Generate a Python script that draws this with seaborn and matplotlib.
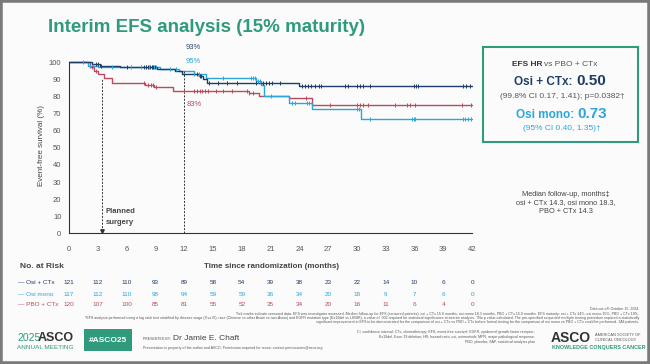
import numpy as np
import pandas as pd
import matplotlib.pyplot as plt
import matplotlib.transforms as mtransforms
from matplotlib.patches import Rectangle
import seaborn as sns

sns.set_style('white')
plt.rcParams['font.family'] = ['Liberation Sans', 'DejaVu Sans']

# ---- data ----
arms = ['Osi + CTx', 'Osi mono', 'PBO + CTx']
colors = {'Osi + CTx': '#1f3d66', 'Osi mono': '#2aa6dc', 'PBO + CTx': '#b84b5e'}

osi_ctx_t = [0, 2.4, 3.2, 5.3, 9.2, 11.0, 11.8, 13.5, 14.0, 14.4, 24.0, 42.0]
osi_ctx_s = [100, 99, 98, 97, 96, 95, 93, 92, 90, 88, 86, 86]
osi_mono_t = [0, 2.0, 3.0, 9.5, 11.5, 13.0, 14.3, 19.5, 20.0, 20.3, 22.9, 25.3, 30.4, 42.0]
osi_mono_s = [100, 98, 97, 96, 95, 93, 91, 89, 87, 80.5, 76, 72.5, 67, 67]
pbo_ctx_t = [0, 2.2, 2.6, 3.0, 3.6, 4.5, 7.9, 8.9, 10.8, 18.8, 19.8, 22.9, 25.3, 42.0]
pbo_ctx_s = [100, 97, 95, 93, 91, 88, 87, 85.5, 83, 82, 80.5, 79, 75, 75]

osi_ctx_cens = [2.8, 3.0, 3.3, 6.0, 7.8, 8.0, 8.2, 8.4, 8.6, 8.8, 9.0, 13.3, 13.6, 13.8,
                14.6, 15.5, 16.5, 17.5, 19.5, 20.2, 20.5, 20.8, 21.2, 22.0, 24.3, 24.6,
                24.9, 25.2, 25.6, 26.0, 26.3, 28.8, 29.1, 30.0, 30.3, 30.6, 31.4, 35.9,
                36.2, 36.4, 41.0, 41.4, 41.8]
osi_mono_cens = [1.5, 2.2, 2.5, 4.5, 6.5, 7.5, 8.0, 8.3, 8.6, 8.9, 9.1, 10.5, 11.2, 13.0,
                 13.5, 16.0, 19.0, 19.2, 19.4, 19.7, 19.9, 21.0, 23.2, 23.5, 24.8, 25.0,
                 30.0, 30.2, 31.4, 35.7, 35.9, 36.1, 41.0, 41.3, 41.6, 41.9]
pbo_ctx_cens = [2.4, 2.8, 7.8, 8.2, 8.5, 8.8, 9.1, 12.0, 13.0, 13.3, 13.6, 13.9, 14.2,
                14.5, 15.3, 16.0, 17.0, 18.5, 18.8, 19.2, 24.7, 27.2, 30.0, 30.3, 30.6,
                31.2, 34.0, 35.2, 35.5, 36.1, 40.9, 41.9]

risk_months = list(range(0, 43, 3))
risk_osi_ctx = [121, 112, 110, 93, 89, 58, 54, 39, 38, 23, 22, 14, 10, 6, 0]
risk_osi_mono = [117, 112, 110, 98, 94, 59, 59, 36, 34, 20, 18, 9, 7, 6, 0]
risk_pbo_ctx = [120, 107, 100, 85, 81, 55, 52, 35, 34, 20, 16, 11, 6, 4, 0]

curves = {'Osi + CTx': (osi_ctx_t, osi_ctx_s, osi_ctx_cens, risk_osi_ctx),
          'Osi mono': (osi_mono_t, osi_mono_s, osi_mono_cens, risk_osi_mono),
          'PBO + CTx': (pbo_ctx_t, pbo_ctx_s, pbo_ctx_cens, risk_pbo_ctx)}

teal = '#2f9a7c'
W, H = 650, 364


def fx(px):
    return px / W


def fy(py):
    return 1 - py / H


fig = plt.figure(figsize=(6.5, 3.64), dpi=100)
fig.patch.set_facecolor('#fbfbfb')
fig.patches.append(Rectangle((0, 0), 1, 1, transform=fig.transFigure, fill=False,
                             edgecolor='#7a7a7a', linewidth=4, zorder=10))

fig.text(fx(48), fy(27), 'Interim EFS analysis (15% maturity)', color=teal,
         fontsize=13.5, fontweight='bold', va='center', ha='left')

ax = fig.add_axes([fx(69), fy(233.3), fx(475) - fx(69), fy(57.2) - fy(233.3)])
ax.set_facecolor('none')

for arm in arms[::-1]:
    t, s, cens, _ = curves[arm]
    df = pd.DataFrame({'month': t, 'efs': s})
    sns.lineplot(data=df, x='month', y='efs', drawstyle='steps-post', color=colors[arm],
                 linewidth=1.0, estimator=None, ax=ax)
    ci = np.searchsorted(t, cens, side='right') - 1
    cy = np.array(s)[ci]
    sns.scatterplot(x=cens, y=cy, marker='|', s=9, linewidth=0.7, color=colors[arm],
                    ax=ax, zorder=3)

ax.set_xlim(0, 42.3)
ax.set_ylim(0, 103)
ax.set_xticks(risk_months)
ax.set_yticks(range(0, 101, 10))
ax.spines['top'].set_visible(False)
ax.spines['right'].set_visible(False)
ax.spines['left'].set_bounds(0, 100)
ax.spines['bottom'].set_bounds(0, 42)
for sp in ['left', 'bottom']:
    ax.spines[sp].set_color('#333333')
    ax.spines[sp].set_linewidth(0.8)
ax.tick_params(axis='both', direction='out', length=4, width=0.8, color='#333333',
               labelsize=5.5, labelcolor='#555555')
ax.tick_params(axis='x', pad=5)
ax.tick_params(axis='y', pad=1.5)
ax.set_xlabel('')
ax.set_ylabel('Event-free survival (%)', fontsize=5.8, color='#444444', labelpad=3)

# landmark lines
ax.plot([3.4, 3.4], [1.5, 91], color='#333333', linestyle=(0, (2, 1.5)), linewidth=0.7)
ax.plot([3.4], [1.2], marker='v', markersize=2.5, color='#333333')
ax.plot([12, 12], [0, 95], color='#333333', linestyle=(0, (2, 1.5)), linewidth=0.7)
ax.text(3.8, 12.5, 'Planned', fontsize=5.5, fontweight='bold', color='#444444', va='center')
ax.text(3.8, 6.3, 'surgery', fontsize=5.5, fontweight='bold', color='#444444', va='center')
ax.text(12.1, 108.5, '93%', fontsize=5.5, color='#2f4a70', va='center', clip_on=False)
ax.text(12.1, 100.5, '95%', fontsize=5.5, color=colors['Osi mono'], va='center', clip_on=False)
ax.text(12.3, 75.5, '83%', fontsize=5.5, color=colors['PBO + CTx'], va='center')

fig.text(fx(272), fy(267), 'Time since randomization (months)', fontsize=5.8,
         fontweight='bold', color='#444444', ha='center', va='center')

# number at risk
fig.text(fx(20), fy(267), 'No. at Risk', fontsize=6, fontweight='bold', color='#444444',
         ha='left', va='center')
trans = mtransforms.blended_transform_factory(ax.transData, fig.transFigure)
for arm, ypx in zip(arms, [283, 294, 305]):
    risk = curves[arm][3]
    fig.text(fx(18), fy(ypx), '\u2014 ' + arm, fontsize=4.6, color=colors[arm],
             ha='left', va='center')
    for m, n in zip(risk_months, risk):
        ax.text(m, fy(ypx), str(n), transform=trans, fontsize=4.6, color=colors[arm],
                ha='center', va='center', clip_on=False)

# HR box
fig.patches.append(Rectangle((fx(483), fy(142.5)), fx(638) - fx(483), fy(47.5) - fy(142.5),
                             transform=fig.transFigure, fill=False, edgecolor=teal,
                             linewidth=1.5))
fig.text(fx(542), fy(64), 'EFS HR', fontsize=6, fontweight='bold', color='#333333',
         ha='right', va='center')
fig.text(fx(544), fy(64), 'vs PBO + CTx', fontsize=6, color='#555555', ha='left', va='center')
fig.text(fx(573), fy(82), 'Osi + CTx:', fontsize=8.5, fontweight='bold', color='#1f3d66',
         ha='right', va='center')
fig.text(fx(576), fy(81), '0.50', fontsize=11, fontweight='bold', color='#1f3d66',
         ha='left', va='center')
fig.text(fx(562), fy(97), '(99.8% CI 0.17, 1.41); p=0.0382\u2020', fontsize=6,
         color='#555555', ha='center', va='center')
fig.text(fx(574), fy(115), 'Osi mono:', fontsize=8.5, fontweight='bold',
         color=colors['Osi mono'], ha='right', va='center')
fig.text(fx(577), fy(114), '0.73', fontsize=11, fontweight='bold', color=colors['Osi mono'],
         ha='left', va='center')
fig.text(fx(562), fy(128), '(95% CI 0.40, 1.35)\u2020', fontsize=6,
         color=colors['Osi mono'], ha='center', va='center')

fig.text(fx(566), fy(203), 'Median follow-up, months\u2021\nosi + CTx 14.3, osi mono 18.3,\n'
         'PBO + CTx 14.3', fontsize=5.3, color='#444444', ha='center', va='center',
         linespacing=1.35)

# footnotes
foot = ['Data cut-off: October 15, 2024.',
        'Tick marks indicate censored data. EFS was investigator assessed. Median follow-up for '
        'EFS (censored patients): osi + CTx 15.0 months, osi mono 18.3 months, PBO + CTx 15.0 '
        'months. EFS maturity: osi + CTx 14%, osi mono 15%, PBO + CTx 19%.',
        '*EFS analysis performed using a log rank test stratified by disease stage (II vs III), '
        'race (Chinese vs other Asian vs non-Asian) and EGFR mutation type (Ex19del vs L858R); '
        'a value of .002 required for statistical significance at interim analysis. \u2020No p '
        'value calculated. The pre-specified sequential multiple testing procedure required a '
        'statistically',
        'significant improvement in EFS to be demonstrated for the comparison of osi + CTx vs '
        'PBO + CTx before formal testing for the comparison of osi mono vs PBO + CTx could be '
        'performed. \u2021All patients.']
for line, ypx in zip(foot, [309, 313.5, 317.5, 321.5]):
    fig.text(fx(639), fy(ypx), line, fontsize=2.6, color='#555555', ha='right', va='center')

abbrev = ('CI, confidence interval; CTx, chemotherapy; EFS, event-free survival; EGFR, '
          'epidermal growth factor receptor;\nEx19del, Exon 19 deletion; HR, hazard ratio; osi, '
          'osimertinib; MPR, major pathological response;\nPBO, placebo; SAP, statistical '
          'analysis plan')
fig.text(fx(535), fy(337), abbrev, fontsize=2.6, color='#555555', ha='right', va='center',
         linespacing=1.5)

# footer logos
fig.text(fx(17), fy(338), '2025', fontsize=7.5, color=teal, ha='left', va='center')
fig.text(fx(38), fy(338), 'ASCO', fontsize=9, fontweight='bold', color='#333333',
         ha='left', va='center')
fig.text(fx(17), fy(347.5), 'ANNUAL MEETING', fontsize=4.6, color=teal, ha='left',
         va='center')
fig.patches.append(Rectangle((fx(84), fy(351)), fx(132) - fx(84), fy(329) - fy(351),
                             transform=fig.transFigure, color='#2f9a7c', linewidth=0))
fig.text(fx(108), fy(340), '#ASCO25', fontsize=6, fontweight='bold', color='white',
         ha='center', va='center')
fig.text(fx(143), fy(338.5), 'PRESENTED BY:', fontsize=2.5, color='#555555', ha='left',
         va='center')
fig.text(fx(173), fy(338), 'Dr Jamie E. Chaft', fontsize=6, color='#444444', ha='left',
         va='center')
fig.text(fx(143), fy(347.5), 'Presentation is property of the author and ASCO. Permission '
         'required for reuse; contact permissions@asco.org', fontsize=2.6, color='#555555',
         ha='left', va='center')
fig.text(fx(551), fy(338), 'ASCO', fontsize=10, fontweight='bold', color='#333333',
         ha='left', va='center')
fig.text(fx(595), fy(337.5), 'AMERICAN SOCIETY OF\nCLINICAL ONCOLOGY', fontsize=2.8,
         color='#555555', ha='left', va='center', linespacing=1.3)
fig.text(fx(552), fy(348), 'KNOWLEDGE CONQUERS CANCER', fontsize=3.9, fontweight='bold',
         color=teal, ha='left', va='center')

fig.savefig('out.png', dpi=100, facecolor=fig.get_facecolor())
